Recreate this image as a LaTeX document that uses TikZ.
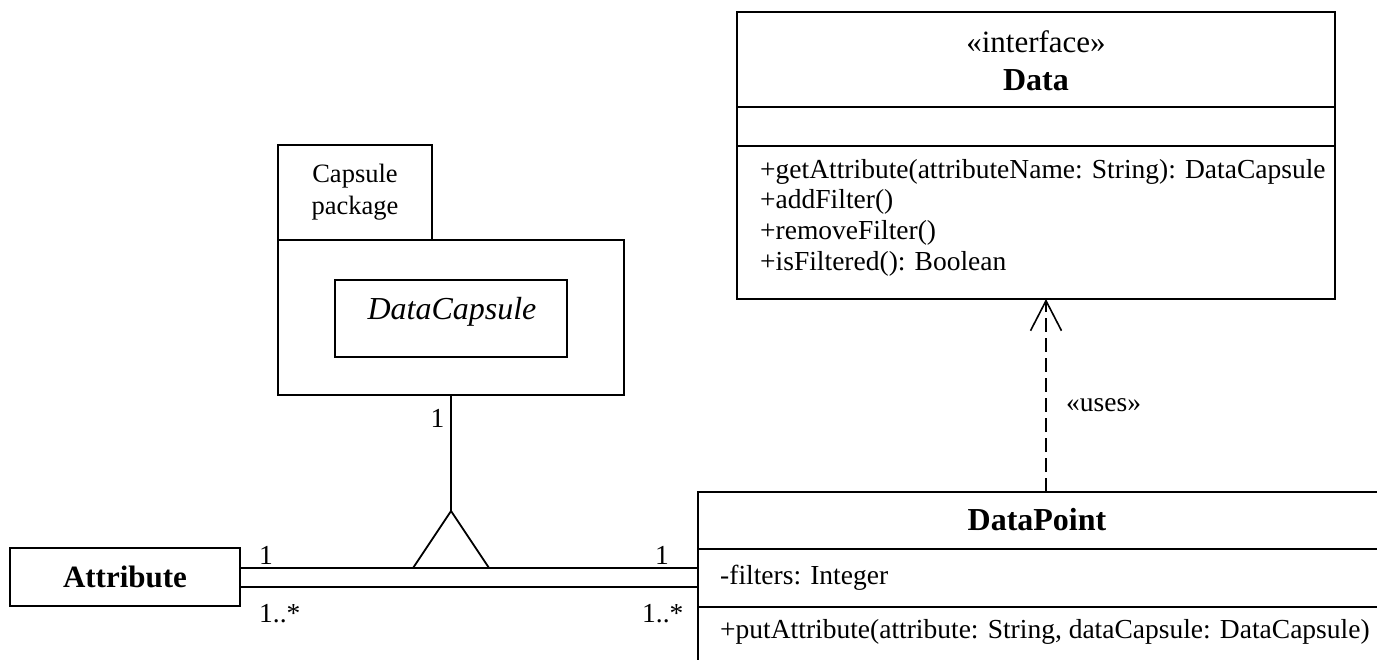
\documentclass[tikz,border=0pt]{standalone}
\usepackage{fontspec}
\setmainfont{Liberation Serif}
\usetikzlibrary{arrows.meta}
\begin{document}
\begin{tikzpicture}[x=1pt,y=-1pt,
  line/.style={line width=1.8pt},
  box/.style={draw, line width=1.8pt, rectangle, inner sep=0pt, outer sep=0pt},
  txt/.style={inner sep=0pt, font=\fontsize{27.5}{31}\selectfont},
  title/.style={inner sep=0pt, font=\fontsize{32}{36}\selectfont\bfseries},
  mult/.style={inner sep=0pt, anchor=base, font=\fontsize{27.5}{31}\selectfont},
  usesarrow/.style={line width=1.6pt, dash pattern=on 14pt off 6pt,
    -{Straight Barb[length=30pt, width=31pt, line width=1.6pt]}}]
\useasboundingbox (0,0) rectangle (1377,660);
\clip (0,0) rectangle (1377,660);

% interface Data
\node[box, minimum width=598pt, minimum height=287pt] (data) at (1036,155.5) {};
\draw[line] (data.west |- 0,107) -- (data.east |- 0,107);
\draw[line] (data.west |- 0,146) -- (data.east |- 0,146);
\node[txt, font=\fontsize{31}{35}\selectfont] (dataster) at (1036,42) {«interface»};
\node[title] (dataname) at (1036,80) {Data};
\node[txt, anchor=west] (m1) at (760,172) {+getAttribute(attributeName: String): DataCapsule};
\node[txt, anchor=west] (m2) at (760,202) {+addFilter()};
\node[txt, anchor=west] (m3) at (760,233) {+removeFilter()};
\node[txt, anchor=west] (m4) at (760,264) {+isFiltered(): Boolean};

% package with DataCapsule
\node[box, minimum width=154pt, minimum height=95pt, align=center,
      font=\fontsize{26.5}{32}\selectfont] (pkgtab) at (355,192.5) {Capsule\\package};
\node[box, minimum width=346pt, minimum height=155pt] (pkg) at (451,317.5) {};
\node[box, minimum width=232pt, minimum height=77pt] (capsule) at (451,318.5) {};
\node[txt, font=\fontsize{32}{36}\selectfont\itshape] (capname) at (452,312) {DataCapsule};

% Attribute
\node[box, minimum width=230pt, minimum height=58pt, font=\fontsize{31}{35}\selectfont\bfseries] (attr) at (125,577) {Attribute};

% DataPoint
\node[box, minimum width=680pt, minimum height=180pt] (dp) at (1038,582) {};
\draw[line] (dp.west |- 0,549) -- (dp.east |- 0,549);
\draw[line] (dp.west |- 0,607) -- (dp.east |- 0,607);
\node[title] (dpname) at (1037,520) {DataPoint};
\node[txt, anchor=west] (dpattr) at (720,578) {-filters: Integer};
\node[txt, anchor=west] (dpop) at (720,632) {+putAttribute(attribute: String, dataCapsule: DataCapsule)};

% ternary association
\coordinate (apex) at (451,511);
\coordinate (upper) at (0,568);
\coordinate (lower) at (0,587);
\draw[line] (pkg.south) -- (apex);
\draw[line] (attr.east |- upper) -- (dp.west |- upper);
\draw[line] (attr.east |- lower) -- (dp.west |- lower);
\draw[line, line join=miter] (413,568) -- (apex) -- (489,568);

\node[mult] (mpkg) at (437.5,428) {1};
\node[mult] (mattr1) at (266,564) {1};
\node[mult, anchor=base west] (mattr2) at (259,622) {1..*};
\node[mult] (mdp1) at (662,564) {1};
\node[mult, anchor=base west] (mdp2) at (642,622) {1..*};

% dependency
\coordinate (ax) at (1046,0);
\draw[usesarrow] (dp.north -| ax) -- (data.south -| ax);
\node[txt, anchor=west] (uses) at (1066,405) {«uses»};
\end{tikzpicture}
\end{document}
